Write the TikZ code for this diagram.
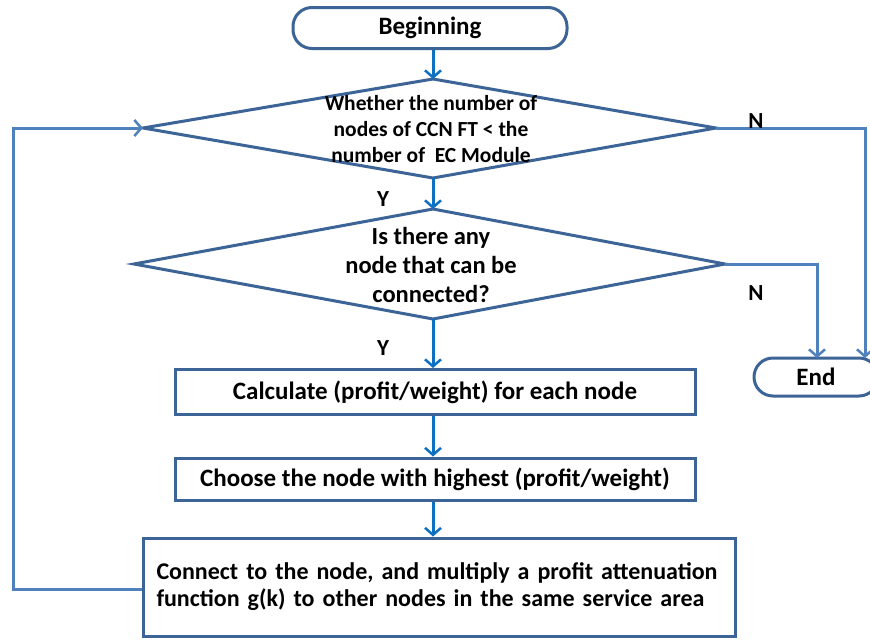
\documentclass[tikz,border=0pt]{standalone}
\usepackage{fontspec}
\setmainfont{Carlito}
\usetikzlibrary{arrows.meta}
\definecolor{shapeblue}{HTML}{3C6496}
\definecolor{arrowblue}{HTML}{0E70C0}
\definecolor{loopblue}{HTML}{4F81BD}
\begin{document}
\begin{tikzpicture}[x=1pt,y=-1pt,
  every node/.style={font=\fontsize{25}{26}\selectfont\bfseries, text=black},
  shp/.style={draw=shapeblue, line width=3pt},
  box/.style={shp, rectangle, inner sep=0pt},
  term/.style={shp, rectangle, rounded corners=19pt, inner sep=0pt},
  flow/.style={draw=arrowblue, line width=3pt, -{Straight Barb[length=7pt,width=16pt,line width=2.5pt]}},
  back/.style={draw=loopblue, line width=3pt, -{Straight Barb[length=7pt,width=16pt,line width=2.5pt]}},
  lbl/.style={font=\fontsize{23}{24}\selectfont\bfseries}]
\useasboundingbox (0,0) rectangle (870,640);
\fill[white] (0,0) rectangle (870,640);

% Beginning
\node[term, minimum width=274pt, minimum height=41pt] (begin) at (430,28) {\raisebox{-1.5pt}{Beginning}};

% Diamond 1
\coordinate (d1t) at (433,79);
\coordinate (d1l) at (143,128);
\coordinate (d1r) at (716,128);
\coordinate (d1b) at (433,178);
\draw[shp, line join=miter] (d1t) -- (d1r) -- (d1b) -- (d1l) -- cycle;
\node[align=center, font=\fontsize{21.5}{26}\selectfont\bfseries] (q1) at (431,129) {Whether the number of\\nodes of CCN FT < the\\number of~ EC Module};

% Diamond 2
\coordinate (d2t) at (433,209);
\coordinate (d2l) at (134,264);
\coordinate (d2r) at (725,264);
\coordinate (d2b) at (433,319);
\draw[shp, line join=miter] (d2t) -- (d2r) -- (d2b) -- (d2l) -- cycle;
\node[align=center, font=\fontsize{24.5}{29}\selectfont\bfseries] (q2) at (431,265) {Is there any\\node that can be\\connected?};

% Process boxes
\node[box, minimum width=520pt, minimum height=45pt] (calc) at (435,392) {Calculate (profit/weight) for each node};
\node[box, minimum width=520pt, minimum height=42pt] (choose) at (435,479) {Choose the node with highest (profit/weight)};
\node[box, minimum width=592pt, minimum height=98pt, text width=565pt, align=left, font=\fontsize{24}{27}\selectfont\bfseries] (conn) at (439,587)
  {\raisebox{-3pt}{\parbox{565pt}{Connect to the node, and multiply a profit attenuation\\function g(k) to other nodes in the same service area}}};

% End
\node[term, minimum width=124pt, minimum height=38pt] (end) at (816,377) {End};

% Flow arrows
\draw[flow] (begin.south -| d1t) -- (d1t);
\draw[flow] (d1b) -- (d2t);
\draw[flow] (d2b) -- (calc.north -| d2b);
\draw[flow] (calc.south -| d2b) -- (choose.north -| d2b);
\draw[flow] (choose.south -| d2b) -- (conn.north -| d2b);

% N branches
\draw[back] (d1r) -- (865,128) -- (865,358);
\draw[back] (d2r) -- (817,264) -- (817,358);

% Loop back
\draw[back] (conn.west |- 0,589) -- (13,589) -- (13,128) -- (d1l);

% Labels
\node[lbl] (n1) at (756,121) {N};
\node[lbl] (n2) at (756,293) {N};
\node[lbl] (y1) at (383,199) {Y};
\node[lbl] (y2) at (383,348) {Y};
\end{tikzpicture}
\end{document}
